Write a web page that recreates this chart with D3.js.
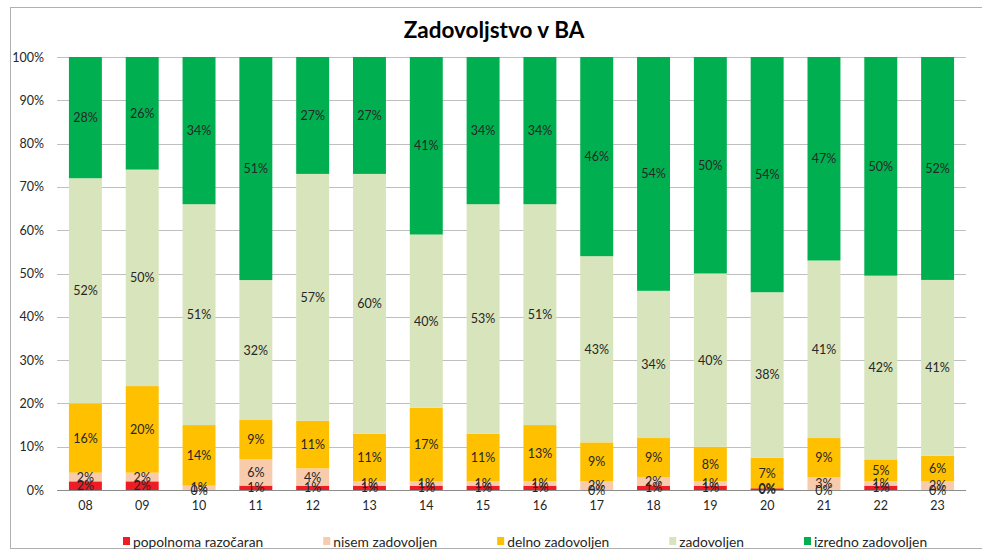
<!DOCTYPE html>
<html>
<head>
<meta charset="utf-8">
<script src="https://cdn.jsdelivr.net/npm/d3@7"></script>
<style>
  html, body { margin: 0; padding: 0; background: #fff; }
  svg { display: block; font-family: Lato, "Open Sans", sans-serif; }
</style>
</head>
<body>
<svg id="chart" width="982" height="550"></svg>
<script>
// Survey years (two-digit labels)
const years = ["08","09","10","11","12","13","14","15","16","17","18","19","20","21","22","23"];

// Answer shares per year, in percent
const popolnomaRazocaran = [2, 2, 0, 1, 1, 1, 1, 1, 1, 0, 1, 1, 0.4, 0, 1, 0];
const nisemZadovoljen    = [2, 2, 1, 6, 4, 1, 1, 1, 1, 2, 2, 1, 0, 3, 1, 2];
const delnoZadovoljen    = [16, 20, 14, 9, 11, 11, 17, 11, 13, 9, 9, 8, 7, 9, 5, 6];
const zadovoljen         = [52, 50, 51, 32, 57, 60, 40, 53, 51, 43, 34, 40, 38, 41, 42, 41];
const izrednoZadovoljen  = [28, 26, 34, 51, 27, 27, 41, 34, 34, 46, 54, 50, 54, 47, 50, 52];

const seriesNames = ["popolnoma razočaran", "nisem zadovoljen", "delno zadovoljen", "zadovoljen", "izredno zadovoljen"];
const seriesColors = ["#EE1C25", "#F8CBAD", "#FFC000", "#D8E4BC", "#00B050"];
const yTicks = [0, 0.1, 0.2, 0.3, 0.4, 0.5, 0.6, 0.7, 0.8, 0.9, 1];

const seriesValues = [popolnomaRazocaran, nisemZadovoljen, delnoZadovoljen, zadovoljen, izrednoZadovoljen];
const rows = years.map((yr, i) => {
  const r = { year: yr };
  seriesNames.forEach((n, k) => { r[n] = seriesValues[k][i]; });
  return r;
});

const svg = d3.select("#chart");
const W = 982, H = 550;
const plot = { left: 57, right: 966, top: 57, bottom: 490 };

// outer chart frame
svg.append("rect")
  .attr("x", 10.5).attr("y", 7.5)
  .attr("width", W).attr("height", H - 9)
  .attr("fill", "none").attr("stroke", "#B0B0B0").attr("stroke-width", 1);

// title
svg.append("text")
  .attr("x", 494).attr("y", 38)
  .attr("text-anchor", "middle")
  .attr("font-size", 22.5).attr("font-weight", 700)
  .attr("fill", "#000")
  .text("Zadovoljstvo v BA");

const x = d3.scaleBand().domain(years).range([plot.left, plot.right]).paddingInner(0.42).paddingOuter(0.21);
const y = d3.scaleLinear().domain([0, 1]).range([plot.bottom, plot.top]);

// gridlines
svg.append("g").selectAll("line").data(yTicks).join("line")
  .attr("x1", plot.left).attr("x2", plot.right)
  .attr("y1", d => Math.round(y(d)) + 0.5).attr("y2", d => Math.round(y(d)) + 0.5)
  .attr("stroke", d => d === 0 ? "#8C8C8C" : "#BFBFBF").attr("stroke-width", 1);

// y axis labels
const yAxis = d3.axisLeft(y).tickValues(yTicks).tickFormat(d3.format(".0%")).tickSize(0).tickPadding(0);
const gy = svg.append("g").attr("transform", `translate(44,0)`).call(yAxis);
gy.select(".domain").remove();
gy.selectAll("text").attr("font-size", 12.5).attr("fill", "#262626").attr("font-family", "Lato, sans-serif");

// x axis labels
const xAxis = d3.axisBottom(x).tickSize(0).tickPadding(0);
const gx = svg.append("g").attr("transform", `translate(0,${plot.bottom + 11})`).call(xAxis);
gx.select(".domain").remove();
gx.selectAll("text").attr("font-size", 12.5).attr("fill", "#262626").attr("font-family", "Lato, sans-serif");

// stacked 100% bars
const stack = d3.stack().keys(seriesNames).offset(d3.stackOffsetExpand);
const layers = stack(rows);

const gBars = svg.append("g");
layers.forEach((layer, k) => {
  gBars.append("g").attr("fill", seriesColors[k])
    .selectAll("rect").data(layer).join("rect")
    .attr("x", d => x(d.data.year))
    .attr("width", x.bandwidth())
    .attr("y", d => y(d[1]))
    .attr("height", d => y(d[0]) - y(d[1]));
});

// value labels centred in each segment
const fmt = d3.format(".0%");
const gLabels = svg.append("g");
layers.forEach((layer, k) => {
  gLabels.append("g").selectAll("text").data(layer).join("text")
    .attr("x", d => x(d.data.year) + x.bandwidth() / 2)
    .attr("y", d => (y(d[0]) + y(d[1])) / 2)
    .attr("text-anchor", "middle")
    .attr("dominant-baseline", "central")
    .attr("font-size", 12.5)
    .attr("fill", "#262626")
    .text(d => fmt(d.data[layer.key] / 100));
});

// legend
const gLeg = svg.append("g").attr("transform", "translate(0,541)");
let lx = 123;
const gap = 60;
seriesNames.forEach((n, k) => {
  const item = gLeg.append("g").attr("transform", `translate(${lx},0)`);
  item.append("rect").attr("x", 0).attr("y", -4).attr("width", 7).attr("height", 8).attr("fill", seriesColors[k]);
  const t = item.append("text").attr("x", 10).attr("y", 0)
    .attr("dominant-baseline", "central")
    .attr("font-size", 13.8).attr("fill", "#262626").text(n);
  lx += 10 + t.node().getComputedTextLength() + gap;
});
</script>
</body>
</html>
